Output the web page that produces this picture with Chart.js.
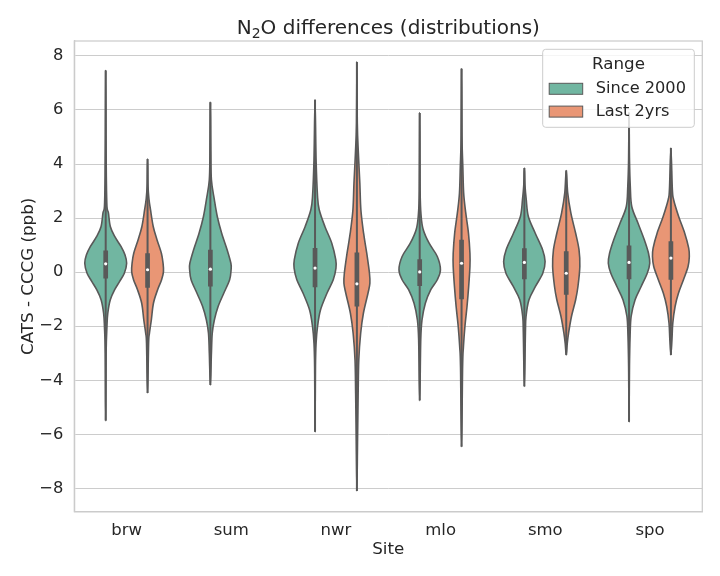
<!DOCTYPE html>
<html>
<head>
<meta charset="utf-8">
<script src="https://cdn.jsdelivr.net/npm/chart.js@4.4.1/dist/chart.umd.min.js"></script>
<style>
  html, body { margin: 0; padding: 0; background: #fff; }
</style>
</head>
<body>
<canvas id="chart" width="720" height="576"></canvas>
<script>
const sites = ['brw', 'sum', 'nwr', 'mlo', 'smo', 'spo'];
const ranges = ['Since 2000', 'Last 2yrs'];
const yTicks = [-8, -6, -4, -2, 0, 2, 4, 6, 8];

// box stats, Since 2000
const sinceMedian = [0.31, 0.11, 0.15, 0.01, 0.36, 0.36];
const sinceQ1 = [-0.23, -0.53, -0.56, -0.51, -0.26, -0.26];
const sinceQ3 = [0.80, 0.83, 0.89, 0.48, 0.88, 0.99];
const sinceLow = [-5.49, -4.17, -5.90, -4.75, -4.23, -5.53];
const sinceHigh = [7.46, 6.28, 6.38, 5.89, 3.85, 5.90];

// box stats, Last 2yrs (no data for sum)
const lastMedian = [0.09, null, -0.43, 0.33, -0.04, 0.52];
const lastQ1 = [-0.58, null, -1.27, -1.00, -0.84, -0.28];
const lastQ3 = [0.70, null, 0.73, 1.20, 0.77, 1.14];
const lastLow = [-4.47, null, -8.09, -6.46, -3.06, -3.06];
const lastHigh = [4.19, null, 7.77, 7.52, 3.76, 4.59];

// violin density profiles: [value, relative width]
const sinceDensity = [
  [[-3.0, 0.02], [-2.01, 0.06], [-1.52, 0.10], [-1.02, 0.22], [-0.65, 0.43], [-0.35, 0.66], [-0.04, 0.89],
   [0.33, 1.0], [0.64, 0.92], [0.95, 0.73], [1.32, 0.43], [1.69, 0.22], [2.19, 0.13], [2.43, 0.06], [3.5, 0.03], [5.0, 0.015]],
  [[-3.0, 0.05], [-2.26, 0.09], [-1.77, 0.19], [-1.27, 0.37], [-0.78, 0.64], [-0.28, 0.92], [0.09, 0.99],
   [0.33, 0.98], [0.83, 0.80], [1.44, 0.54], [2.06, 0.33], [2.68, 0.19], [3.42, 0.05], [4.5, 0.02]],
  [[-3.5, 0.02], [-2.63, 0.05], [-2.01, 0.12], [-1.40, 0.26], [-0.78, 0.57], [-0.28, 0.87], [0.15, 1.0],
   [0.46, 0.99], [1.07, 0.80], [1.69, 0.47], [2.31, 0.20], [2.80, 0.12], [4.16, 0.05]],
  [[-2.51, 0.05], [-1.77, 0.11], [-1.15, 0.27], [-0.65, 0.53], [-0.28, 0.84], [0.09, 0.99],
   [0.58, 0.84], [1.07, 0.45], [1.57, 0.17], [2.06, 0.07], [3.0, 0.02]],
  [[-2.26, 0.05], [-1.64, 0.08], [-1.02, 0.22], [-0.53, 0.53], [-0.04, 0.88], [0.39, 0.99],
   [0.83, 0.87], [1.44, 0.52], [2.06, 0.19], [2.68, 0.09], [3.2, 0.03]],
  [[-3.5, 0.02], [-2.38, 0.05], [-1.64, 0.10], [-1.02, 0.29], [-0.53, 0.58], [-0.04, 0.87], [0.33, 0.99],
   [0.70, 0.93], [1.20, 0.73], [1.81, 0.43], [2.43, 0.13], [3.17, 0.06], [4.2, 0.02]]
];
const lastDensity = [
  [[-2.63, 0.05], [-2.26, 0.09], [-1.77, 0.18], [-1.15, 0.28], [-0.65, 0.48], [-0.28, 0.67], [0.02, 0.76],
   [0.33, 0.74], [0.70, 0.66], [1.20, 0.45], [1.69, 0.27], [2.31, 0.14], [2.68, 0.07], [3.2, 0.02]],
  null,
  [[-6.33, 0.03], [-4.48, 0.06], [-3.25, 0.09], [-2.26, 0.18], [-1.52, 0.31], [-0.78, 0.53], [-0.41, 0.62],
   [-0.04, 0.60], [0.70, 0.47], [1.44, 0.32], [2.31, 0.19], [3.30, 0.14], [4.41, 0.07], [5.5, 0.02]],
  [[-3.49, 0.05], [-2.75, 0.09], [-2.01, 0.16], [-1.27, 0.26], [-0.53, 0.34], [0.21, 0.40],
   [0.70, 0.40], [1.44, 0.33], [2.19, 0.20], [2.93, 0.10], [3.91, 0.06], [5.0, 0.02]],
  [[-2.63, 0.05], [-2.26, 0.11], [-1.64, 0.25], [-1.02, 0.45], [-0.53, 0.56], [0.21, 0.65],
   [0.83, 0.61], [1.44, 0.45], [2.19, 0.22], [2.93, 0.07]],
  [[-2.51, 0.05], [-1.89, 0.09], [-1.27, 0.20], [-0.78, 0.36], [-0.28, 0.60], [0.21, 0.82],
   [0.58, 0.88], [0.89, 0.85], [1.44, 0.66], [2.06, 0.37], [2.68, 0.13], [3.05, 0.07]]
];

const textColor = '#262626';
const lineGray = '#595959';
const gridColor = '#cccccc';
const colors = ['#71b6a1', '#e99675'];
const font = 'DejaVu Sans';

const groups = [
  { offset: -0.2, color: colors[0], density: sinceDensity, median: sinceMedian, q1: sinceQ1, q3: sinceQ3, low: sinceLow, high: sinceHigh },
  { offset: 0.2, color: colors[1], density: lastDensity, median: lastMedian, q1: lastQ1, q3: lastQ3, low: lastLow, high: lastHigh }
];
const halfWidth = 0.2;

function smoothClosed(ctx, pts) {
  const n = pts.length;
  ctx.moveTo(pts[0][0], pts[0][1]);
  for (let i = 0; i < n; i++) {
    const p0 = pts[(i - 1 + n) % n], p1 = pts[i], p2 = pts[(i + 1) % n], p3 = pts[(i + 2) % n];
    ctx.bezierCurveTo(
      p1[0] + (p2[0] - p0[0]) / 6, p1[1] + (p2[1] - p0[1]) / 6,
      p2[0] - (p3[0] - p1[0]) / 6, p2[1] - (p3[1] - p1[1]) / 6,
      p2[0], p2[1]);
  }
  ctx.closePath();
}

const violinPlugin = {
  id: 'violins',
  beforeDatasetsDraw(chart) {
    const { ctx, chartArea, scales: { x, y } } = chart;
    ctx.save();
    ctx.beginPath();
    ctx.rect(chartArea.left, chartArea.top, chartArea.width, chartArea.height);
    ctx.clip();
    groups.forEach(g => {
      sites.forEach((s, i) => {
        const shape = g.density[i];
        if (!shape) return;
        const c = i + g.offset;
        const prof = [[g.low[i], 0]].concat(shape, [[g.high[i], 0]]);
        const right = prof.map(([v, w]) => [x.getPixelForValue(c + w * halfWidth), y.getPixelForValue(v)]);
        const left = prof.slice().reverse().map(([v, w]) => [x.getPixelForValue(c - w * halfWidth), y.getPixelForValue(v)]);
        const pts = right.concat(left.slice(1, -1));
        ctx.beginPath();
        smoothClosed(ctx, pts);
        ctx.fillStyle = g.color;
        ctx.fill();
        ctx.lineWidth = 1.6;
        ctx.strokeStyle = lineGray;
        ctx.lineJoin = 'round';
        ctx.stroke();

        const px = x.getPixelForValue(c);
        ctx.lineCap = 'butt';
        ctx.beginPath();
        ctx.moveTo(px, y.getPixelForValue(g.low[i]));
        ctx.lineTo(px, y.getPixelForValue(g.high[i]));
        ctx.lineWidth = 2;
        ctx.stroke();
        ctx.beginPath();
        ctx.moveTo(px, y.getPixelForValue(g.q1[i]));
        ctx.lineTo(px, y.getPixelForValue(g.q3[i]));
        ctx.lineWidth = 4.7;
        ctx.stroke();
      });
    });
    ctx.restore();
  }
};

const framePlugin = {
  id: 'frame',
  afterDraw(chart) {
    const { ctx, chartArea: a } = chart;
    ctx.save();
    ctx.strokeStyle = gridColor;
    ctx.lineWidth = 1.25;
    ctx.strokeRect(a.left, a.top, a.right - a.left, a.bottom - a.top);

    // title with subscript, centred over the axes
    const big = '20px "' + font + '"', small = '14px "' + font + '"';
    const parts = [['N', big, 0], ['2', small, 4], ['O differences (distributions)', big, 0]];
    let total = 0;
    parts.forEach(p => { ctx.font = p[1]; total += ctx.measureText(p[0]).width; });
    let tx = (a.left + a.right) / 2 - total / 2;
    ctx.fillStyle = textColor;
    ctx.textBaseline = 'alphabetic';
    ctx.textAlign = 'left';
    parts.forEach(p => {
      ctx.font = p[1];
      ctx.fillText(p[0], tx, 34 + p[2]);
      tx += ctx.measureText(p[0]).width;
    });

    // legend box, top right inside the axes
    const w = 151.6, h = 78;
    const bx = a.right - 8 - w, by = a.top + 8.3;
    ctx.beginPath();
    ctx.roundRect(bx, by, w, h, 3);
    ctx.fillStyle = 'rgba(255,255,255,0.8)';
    ctx.fill();
    ctx.strokeStyle = gridColor;
    ctx.lineWidth = 1;
    ctx.stroke();
    ctx.fillStyle = textColor;
    ctx.textBaseline = 'middle';
    ctx.textAlign = 'center';
    ctx.font = '16.7px "' + font + '"';
    ctx.fillText('Range', bx + w / 2, by + 15);
    ctx.textAlign = 'left';
    ctx.font = '16.2px "' + font + '"';
    ranges.forEach((r, k) => {
      const ry = by + 34 + k * 22.8;
      ctx.fillStyle = colors[k];
      ctx.fillRect(bx + 6.5, ry, 33.5, 11);
      ctx.strokeStyle = lineGray;
      ctx.lineWidth = 1;
      ctx.strokeRect(bx + 6.5, ry, 33.5, 11);
      ctx.fillStyle = textColor;
      ctx.fillText(r, bx + 53, ry + 5.8);
    });
    ctx.restore();
  }
};

new Chart(document.getElementById('chart'), {
  type: 'scatter',
  data: {
    datasets: groups.map((g, k) => ({
      label: ranges[k],
      data: sites.map((s, i) => g.median[i] === null ? null : { x: i + g.offset, y: g.median[i] }).filter(p => p),
      pointRadius: 1.6,
      pointHoverRadius: 1.6,
      pointBackgroundColor: '#ffffff',
      pointBorderWidth: 0,
      backgroundColor: g.color
    }))
  },
  options: {
    responsive: false,
    devicePixelRatio: 1,
    animation: false,
    layout: { padding: { top: 41, right: 17.7, bottom: 0, left: 0 } },
    plugins: {
      legend: { display: false },
      tooltip: { enabled: false },
      title: { display: false }
    },
    scales: {
      x: {
        type: 'linear',
        min: -0.5,
        max: 5.5,
        afterBuildTicks: s => { s.ticks = sites.map((n, i) => ({ value: i })); },
        afterFit: s => { s.height = 64.3; },
        ticks: {
          callback: v => sites[v],
          color: textColor,
          font: { family: font, size: 16.5 },
          padding: 9,
          maxRotation: 0
        },
        grid: { display: false, drawTicks: false },
        border: { color: gridColor, width: 1.25 },
        title: {
          display: true,
          text: 'Site',
          color: textColor,
          font: { family: font, size: 16.7 },
          padding: { top: 0, bottom: 16 }
        }
      },
      y: {
        type: 'linear',
        min: -8.86,
        max: 8.55,
        afterBuildTicks: s => { s.ticks = yTicks.map(v => ({ value: v })); },
        afterFit: s => { s.width = 74.3; },
        ticks: {
          callback: v => (v < 0 ? '\u2212' + Math.abs(v) : String(v)),
          color: textColor,
          font: { family: font, size: 16.3 },
          padding: 11
        },
        grid: { color: gridColor, lineWidth: 1, drawTicks: false },
        border: { color: gridColor, width: 1.25 },
        title: {
          display: true,
          text: 'CATS - CCCG (ppb)',
          color: textColor,
          font: { family: font, size: 16.7 },
          padding: { top: 18.3, bottom: 0 }
        }
      }
    }
  },
  plugins: [violinPlugin, framePlugin]
});
</script>
</body>
</html>
